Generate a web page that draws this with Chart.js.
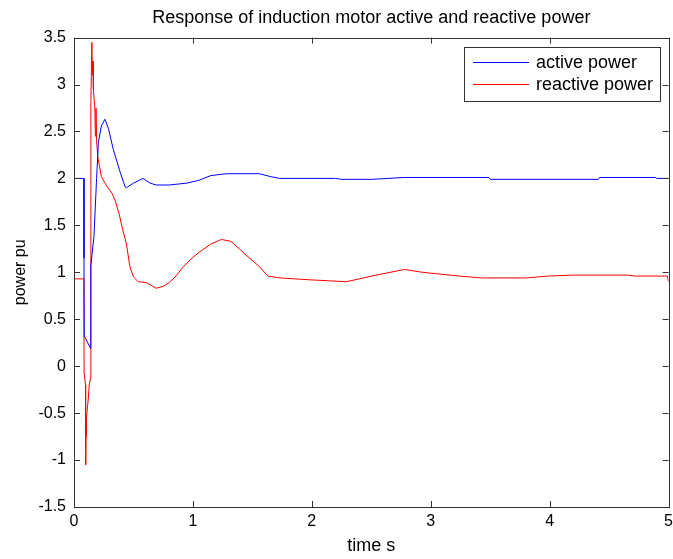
<!DOCTYPE html>
<html>
<head>
<meta charset="utf-8">
<script src="https://cdn.jsdelivr.net/npm/chart.js@4.4.0/dist/chart.umd.min.js"></script>
<style>
  html, body { margin: 0; padding: 0; background: #fff; }
  #wrap { width: 673px; height: 559px; }
</style>
</head>
<body>
<div id="wrap"><canvas id="chart" width="673" height="559"></canvas></div>
<script>
// time (s) and values (pu)
const activeTime = [0, 0.083, 0.084, 0.086, 0.14, 0.141, 0.168, 0.19, 0.205, 0.23, 0.26, 0.29, 0.33, 0.39, 0.43, 0.44, 0.5, 0.58, 0.64, 0.69, 0.8, 0.95, 1.05, 1.15, 1.28, 1.56, 1.65, 1.73, 2.2, 2.25, 2.5, 2.78, 3.49, 3.5, 4.41, 4.42, 4.89, 4.9, 5.0];
const activePower = [2.0, 2.0, 1.15, 0.32, 0.19, 1.07, 1.38, 2.0, 2.38, 2.56, 2.63, 2.53, 2.31, 2.06, 1.91, 1.90, 1.95, 2.0, 1.95, 1.93, 1.93, 1.95, 1.98, 2.03, 2.05, 2.05, 2.02, 2.0, 2.0, 1.99, 1.99, 2.01, 2.01, 1.99, 1.99, 2.01, 2.01, 2.0, 2.0];

const reactiveTime = [0, 0.083, 0.085, 0.097, 0.098, 0.101, 0.103, 0.106, 0.12, 0.128, 0.14, 0.142, 0.15, 0.155, 0.16, 0.163, 0.175, 0.18, 0.185, 0.19, 0.2, 0.23, 0.27, 0.32, 0.345, 0.38, 0.41, 0.44, 0.47, 0.5, 0.54, 0.61, 0.69, 0.75, 0.8, 0.85, 0.92, 1.0, 1.06, 1.15, 1.24, 1.32, 1.39, 1.45, 1.56, 1.63, 1.73, 1.98, 2.29, 2.4, 2.54, 2.78, 2.93, 3.24, 3.43, 3.8, 3.99, 4.19, 4.66, 4.72, 4.99, 5.0];
const reactivePower = [0.93, 0.93, -0.07, -0.2, -1.05, -0.6, -0.75, -0.55, -0.35, -0.2, -0.12, 2.8, 3.45, 3.1, 3.25, 2.95, 2.75, 2.45, 2.75, 2.4, 2.23, 2.02, 1.93, 1.84, 1.77, 1.62, 1.45, 1.31, 1.06, 0.95, 0.9, 0.89, 0.83, 0.85, 0.89, 0.95, 1.06, 1.16, 1.22, 1.3, 1.35, 1.33, 1.25, 1.18, 1.06, 0.96, 0.94, 0.92, 0.9, 0.93, 0.97, 1.03, 1.0, 0.96, 0.94, 0.94, 0.96, 0.97, 0.97, 0.96, 0.96, 0.9];

const seriesNames = ['active power', 'reactive power'];
const xTicks = [0, 1, 2, 3, 4, 5];
const yTicks = [-1.5, -1, -0.5, 0, 0.5, 1, 1.5, 2, 2.5, 3, 3.5];

const FONT = 'Liberation Sans, Arial, Helvetica, sans-serif';
const AXIS_COLOR = '#333';

function toPoints(xs, ys) {
  return xs.map((x, i) => ({ x: x, y: ys[i] }));
}

// box around the plot and inward tick marks, like matlab axes
const boxPlugin = {
  id: 'boxPlugin',
  afterDatasetsDraw(chart) {
    const { ctx, chartArea: a, scales } = chart;
    ctx.save();
    ctx.strokeStyle = AXIS_COLOR;
    ctx.lineWidth = 1;
    ctx.strokeRect(Math.round(a.left) + 0.5, Math.round(a.top) + 0.5,
      Math.round(a.right - a.left), Math.round(a.bottom - a.top));
    ctx.beginPath();
    xTicks.forEach(v => {
      const px = Math.round(scales.x.getPixelForValue(v)) + 0.5;
      ctx.moveTo(px, a.bottom); ctx.lineTo(px, a.bottom - 6);
      ctx.moveTo(px, a.top); ctx.lineTo(px, a.top + 6);
    });
    yTicks.forEach(v => {
      const py = Math.round(scales.y.getPixelForValue(v)) + 0.5;
      ctx.moveTo(a.left, py); ctx.lineTo(a.left + 6, py);
      ctx.moveTo(a.right, py); ctx.lineTo(a.right - 6, py);
    });
    ctx.stroke();
    ctx.restore();
  },
  afterDraw(chart) {
    // legend box in the upper right corner
    const { ctx, chartArea: a } = chart;
    const w = 196, h = 54;
    const left = Math.round(a.right - 9 - w), top = Math.round(a.top + 9);
    ctx.save();
    ctx.fillStyle = '#fff';
    ctx.fillRect(left, top, w, h);
    ctx.strokeStyle = AXIS_COLOR;
    ctx.lineWidth = 1;
    ctx.strokeRect(left + 0.5, top + 0.5, w, h);
    ctx.font = '18px ' + FONT;
    ctx.textBaseline = 'middle';
    chart.data.datasets.forEach((ds, i) => {
      const y = top + 15 + i * 22;
      ctx.strokeStyle = ds.borderColor;
      ctx.beginPath();
      ctx.moveTo(left + 9, y + 0.5);
      ctx.lineTo(left + 65, y + 0.5);
      ctx.stroke();
      ctx.fillStyle = '#000';
      ctx.fillText(ds.label, left + 72, y + 1);
    });
    ctx.restore();
  }
};

new Chart(document.getElementById('chart'), {
  type: 'line',
  data: {
    datasets: [
      {
        label: seriesNames[0],
        data: toPoints(activeTime, activePower),
        borderColor: '#0000ff',
        borderWidth: 1,
        pointRadius: 0,
        tension: 0
      },
      {
        label: seriesNames[1],
        data: toPoints(reactiveTime, reactivePower),
        borderColor: '#ff0000',
        borderWidth: 1,
        pointRadius: 0,
        tension: 0
      }
    ]
  },
  options: {
    responsive: false,
    animation: false,
    events: [],
    layout: { padding: { left: 0, right: 3, top: 0, bottom: 0 } },
    plugins: {
      legend: { display: false },
      tooltip: { enabled: false },
      title: {
        display: true,
        fullSize: false,
        text: 'Response of induction motor active and reactive power',
        color: '#000',
        font: { family: FONT, size: 18, weight: 'normal' },
        padding: { top: 7, bottom: 9 }
      }
    },
    scales: {
      x: {
        type: 'linear',
        min: 0,
        max: 5,
        afterBuildTicks: s => { s.ticks = xTicks.map(v => ({ value: v })); },
        ticks: { color: '#000', font: { family: FONT, size: 16 }, padding: 0 },
        grid: { display: false, tickLength: 5 },
        border: { display: false },
        title: {
          display: true,
          text: 'time s',
          color: '#000',
          font: { family: FONT, size: 18 },
          padding: { top: 0, bottom: 2 }
        },
        afterFit: s => { s.height = 52; }
      },
      y: {
        type: 'linear',
        min: -1.5,
        max: 3.5,
        afterBuildTicks: s => { s.ticks = yTicks.map(v => ({ value: v })); },
        ticks: {
          color: '#000',
          font: { family: FONT, size: 16 },
          padding: 3,
          callback: v => String(v)
        },
        grid: { display: false, tickLength: 5 },
        border: { display: false },
        title: {
          display: true,
          text: 'power pu',
          color: '#000',
          font: { family: FONT, size: 16 },
          padding: { top: 11, bottom: 0 }
        },
        afterFit: s => { s.width = 74; }
      }
    }
  },
  plugins: [boxPlugin]
});
</script>
</body>
</html>
